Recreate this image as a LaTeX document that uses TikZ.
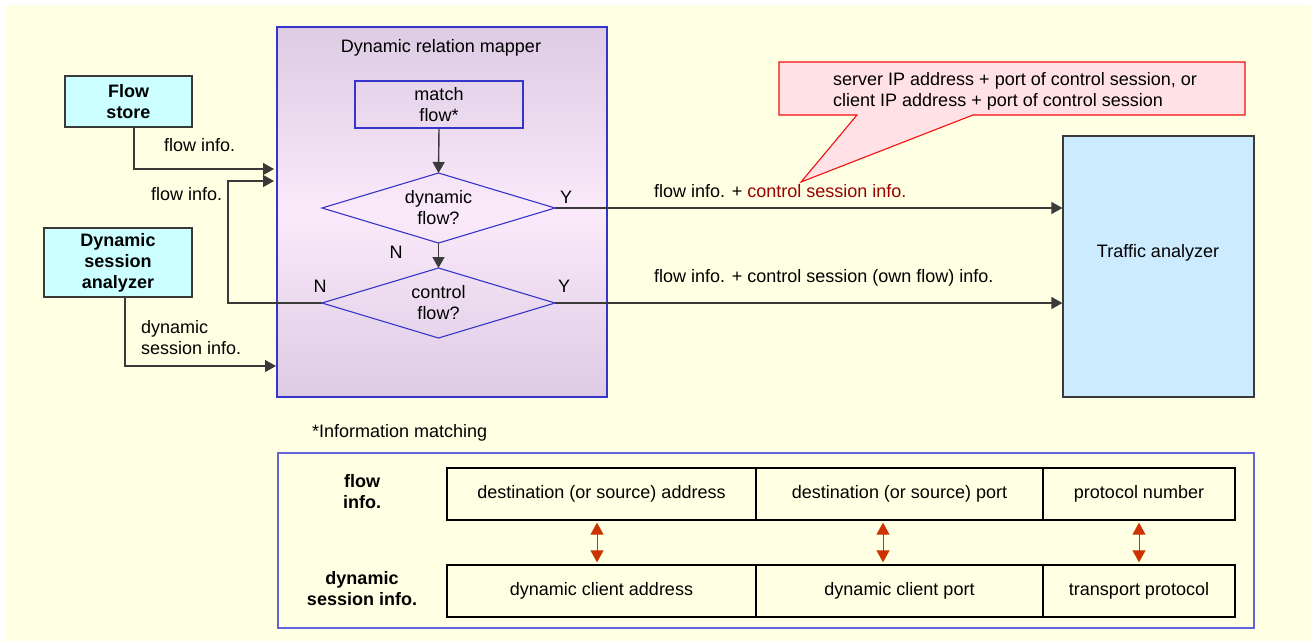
\documentclass[tikz,border=0pt]{standalone}
\usepackage{fontspec}
\setmainfont{Liberation Sans}
\usetikzlibrary{shapes.geometric,arrows.meta,calc}
\definecolor{bgyellow}{HTML}{FFFFE3}
\definecolor{mapblue}{HTML}{3535CC}
\definecolor{mapedge}{HTML}{DCCBE3}
\definecolor{mapmid}{HTML}{FBEAFB}
\definecolor{cyanbox}{HTML}{CCFFFF}
\definecolor{tabox}{HTML}{CCEBFF}
\definecolor{calloutfill}{HTML}{FFE1E6}
\definecolor{calloutred}{HTML}{F01010}
\definecolor{darkred}{HTML}{990000}
\definecolor{linegray}{HTML}{3A3A3A}
\definecolor{dblorange}{HTML}{CC3300}
\definecolor{tableblue}{HTML}{6464DC}
\tikzset{
  mapper/.style={draw=mapblue, line width=2pt, top color=mapedge, bottom color=mapedge, middle color=mapmid, minimum width=330pt, minimum height=370pt, inner sep=0pt},
  procbox/.style={draw=mapblue, line width=1.1pt, minimum width=168pt, minimum height=47pt, align=center, inner sep=0pt},
  decision/.style={diamond, shape aspect=3.3, draw=mapblue, line width=1.1pt, minimum width=233pt, minimum height=70pt, align=center, inner sep=0pt, outer sep=0pt},
  sidebox/.style={draw=linegray, line width=1.2pt, fill=cyanbox, align=center, inner sep=0pt, font=\fontsize{18}{21}\selectfont\bfseries},
  conn/.style={draw=linegray, line width=1.4pt, -{Triangle[length=11pt,width=12pt]}},
  dblarrow/.style={draw=dblorange, fill=dblorange, line width=1pt, {Triangle[length=12pt,width=13pt]}-{Triangle[length=12pt,width=13pt]}, shorten <=2pt, shorten >=2pt},
  cell/.style={draw=black, line width=1.4pt, minimum height=52pt, inner sep=0pt},
  lbl/.style={inner sep=0pt, align=left},
  boldlbl/.style={inner sep=0pt, align=center, font=\fontsize{18}{21}\selectfont\bfseries}
}
\begin{document}
\begin{tikzpicture}[x=1pt, y=-1pt, font=\fontsize{18}{21}\selectfont]
\useasboundingbox (0,0) rectangle (1311,641);
\fill[bgyellow] (6,5) rectangle (1311,641);

% Dynamic relation mapper
\node[mapper] (map) at (442,212) {};
\node[lbl] (maptitle) at (441,48) {Dynamic relation mapper};
\node[procbox] (match) at (439,104.5) {match\\flow*};
\node[decision] (dyn) at (438.5,208) {dynamic\\flow?};
\node[decision] (ctl) at (438.5,303) {control\\flow?};
\draw[conn] (match.south) -- (dyn.north);
\draw[conn] (dyn.south) -- (ctl.north);
\node[lbl] (ndyn) at (396,252) {N};
\node[lbl] (nctl) at (320,286) {N};
\node[lbl] (ydyn) at (566,197) {Y};
\node[lbl] (yctl) at (564,286) {Y};

% Left boxes
\node[sidebox, minimum width=127pt, minimum height=51pt] (fs) at (128.5,101.5) {Flow\\store};
\node[sidebox, minimum width=148pt, minimum height=69pt] (dsa) at (118,262.5) {Dynamic\\session\\analyzer};

\coordinate (in1) at (274,169);
\coordinate (in2) at (274,181);
\coordinate (fb) at (228,181);
\coordinate (in3) at (276,366);
\draw[conn] ($(fs.south)+(5.5,0)$) |- (in1);
\draw[conn] (ctl.west) -| (fb) -- (in2);
\draw[conn] ($(dsa.south)+(7,0)$) |- (in3);
\node[lbl, anchor=west] (l1) at (164,145) {flow info.};
\node[lbl, anchor=west] (l2) at (151,194) {flow info.};
\node[lbl, anchor=north west] (l3) at (141,320) {dynamic\\session info.};

% Traffic analyzer
\node[draw=linegray, line width=1.2pt, fill=tabox, minimum width=191pt, minimum height=261pt, inner sep=0pt] (ta) at (1158.5,266.5) {};
\node[lbl] (tatext) at (1158,253) {Traffic analyzer};
\draw[conn] (dyn.east) -- (dyn.east -| ta.west);
\draw[conn] (ctl.east) -- (ctl.east -| ta.west);
\node[lbl, anchor=west] (a1) at (654,191) {flow info. + \textcolor{darkred}{control session info.}};
\node[lbl, anchor=west] (a2) at (654,278) {flow info. + control session (own flow) info.};

% Callout
\filldraw[draw=calloutred, fill=calloutfill, line width=1.1pt, line join=miter]
  (779,62) -- (1245,62) -- (1245,115) -- (973,115) -- (801,182) -- (857,115) -- (779,115) -- cycle;
\node[lbl, anchor=north west] (cotext) at (833,72) {server IP address + port of control session, or\\client IP address + port of control session};

% Information matching
\node[lbl, anchor=west] (imtitle) at (312,433) {*Information matching};
\node[draw=tableblue, line width=1.4pt, minimum width=976pt, minimum height=175pt, inner sep=0pt] (imbox) at (766,540.5) {};
\node[boldlbl] (rowf) at (362,492) {flow\\info.};
\node[boldlbl] (rowd) at (362,589) {dynamic\\session info.};
\node[cell, minimum width=309pt] (c1) at (601.5,494) {destination (or source) address};
\node[cell, minimum width=287pt] (c2) at (899.5,494) {destination (or source) port};
\node[cell, minimum width=192pt] (c3) at (1139,494) {protocol number};
\node[cell, minimum width=309pt] (d1) at (601.5,591) {dynamic client address};
\node[cell, minimum width=287pt] (d2) at (899.5,591) {dynamic client port};
\node[cell, minimum width=192pt] (d3) at (1139,591) {transport protocol};
\draw[dblarrow] ([xshift=-4.5pt]c1.south) -- ([xshift=-4.5pt]d1.north);
\draw[dblarrow] ([xshift=-16.5pt]c2.south) -- ([xshift=-16.5pt]d2.north);
\draw[dblarrow] (c3.south) -- (d3.north);
\end{tikzpicture}
\end{document}
